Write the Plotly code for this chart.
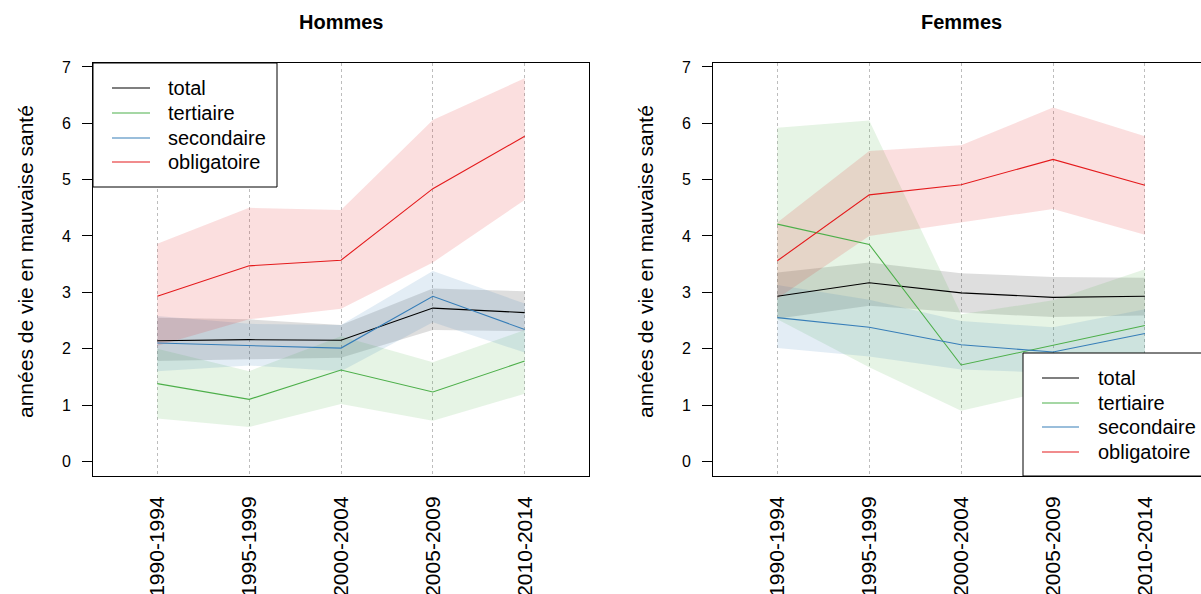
import plotly.graph_objects as go

W, H = 1201, 594

periodes = ["1990-1994", "1995-1999", "2000-2004", "2005-2009", "2010-2014"]
groupes = ["total", "tertiaire", "secondaire", "obligatoire"]

# Hommes
h_total = [2.14, 2.16, 2.15, 2.72, 2.64]
h_total_lo = [1.78, 1.81, 1.84, 2.33, 2.31]
h_total_hi = [2.55, 2.52, 2.42, 3.07, 3.02]
h_tert = [1.38, 1.10, 1.62, 1.23, 1.78]
h_tert_lo = [0.76, 0.61, 1.02, 0.72, 1.20]
h_tert_hi = [2.00, 1.60, 2.22, 1.76, 2.33]
h_sec = [2.10, 2.06, 2.01, 2.93, 2.34]
h_sec_lo = [1.60, 1.70, 1.60, 2.47, 1.93]
h_sec_hi = [2.58, 2.44, 2.42, 3.38, 2.80]
h_obl = [2.93, 3.47, 3.57, 4.84, 5.77]
h_obl_lo = [2.05, 2.52, 2.71, 3.53, 4.64]
h_obl_hi = [3.86, 4.50, 4.46, 6.06, 6.80]

# Femmes
f_total = [2.93, 3.17, 2.99, 2.91, 2.93]
f_total_lo = [2.53, 2.76, 2.64, 2.56, 2.59]
f_total_hi = [3.35, 3.53, 3.34, 3.27, 3.26]
f_tert = [4.21, 3.85, 1.71, 2.06, 2.41]
f_tert_lo = [2.52, 1.67, 0.90, 1.27, 1.43]
f_tert_hi = [5.92, 6.05, 2.61, 2.86, 3.41]
f_sec = [2.55, 2.38, 2.07, 1.94, 2.27]
f_sec_lo = [2.01, 1.86, 1.63, 1.57, 1.84]
f_sec_hi = [3.13, 2.87, 2.49, 2.38, 2.70]
f_obl = [3.56, 4.73, 4.91, 5.36, 4.90]
f_obl_lo = [2.89, 4.00, 4.24, 4.48, 4.02]
f_obl_hi = [4.24, 5.51, 5.61, 6.28, 5.77]

line_colors = ["#000000", "#4DAF4A", "#377EB8", "#E41A1C"]
band_colors = ["rgba(0,0,0,0.13)", "rgba(77,175,74,0.14)",
               "rgba(55,126,184,0.14)", "rgba(228,26,28,0.14)"]

FONT = "Liberation Sans, Arial, Helvetica, sans-serif"


def px(x):
    return x / W


def py(y):
    return 1 - y / H


fig = go.Figure()

panels = [
    ("x", "y", [(h_total, h_total_lo, h_total_hi), (h_tert, h_tert_lo, h_tert_hi),
                (h_sec, h_sec_lo, h_sec_hi), (h_obl, h_obl_lo, h_obl_hi)]),
    ("x2", "y2", [(f_total, f_total_lo, f_total_hi), (f_tert, f_tert_lo, f_tert_hi),
                  (f_sec, f_sec_lo, f_sec_hi), (f_obl, f_obl_lo, f_obl_hi)]),
]

for xa, ya, series in panels:
    for i, (mid, lo, hi) in enumerate(series):
        fig.add_trace(go.Scatter(
            x=periodes + periodes[::-1], y=hi + lo[::-1],
            fill="toself", fillcolor=band_colors[i], mode="lines",
            line=dict(width=0), hoverinfo="skip", showlegend=False,
            xaxis=xa, yaxis=ya))
    for i, (mid, lo, hi) in enumerate(series):
        fig.add_trace(go.Scatter(
            x=periodes, y=mid, mode="lines", name=groupes[i],
            line=dict(color=line_colors[i], width=1.1), showlegend=False,
            xaxis=xa, yaxis=ya))

ydom = [py(476), py(63)]
xcommon = dict(type="category", showline=True, mirror=True, linecolor="black",
               linewidth=1, ticks="", showgrid=True, gridcolor="#bdbdbd",
               griddash="dot", gridwidth=1, tickangle=-90, automargin=False,
               tickfont=dict(size=21, color="black", family=FONT),
               ticklabelstandoff=11, zeroline=False)
ycommon = dict(range=[-0.26, 7.07], tickvals=[0, 1, 2, 3, 4, 5, 6, 7],
               showline=True, linecolor="black", linewidth=1, ticks="outside",
               ticklen=10, tickwidth=1, tickcolor="black", showgrid=False,
               zeroline=False, automargin=False,
               tickfont=dict(size=16, color="black", family=FONT),
               ticklabelstandoff=8)

fig.update_layout(
    width=W, height=H,
    margin=dict(l=0, r=0, t=0, b=0, autoexpand=False),
    paper_bgcolor="white", plot_bgcolor="white",
    font=dict(family=FONT, color="black"),
    showlegend=False,
    xaxis=dict(domain=[px(93), px(589)], range=[-0.7, 4.7], anchor="y", **xcommon),
    yaxis=dict(domain=ydom, anchor="x", mirror=True, **ycommon),
    xaxis2=dict(domain=[px(713), 1.0], range=[-0.7, 4.61], anchor="y2", **xcommon),
    yaxis2=dict(domain=ydom, anchor="x2", mirror=False, **ycommon),
)

annotations = []
shapes = []

# titles
for txt, cx in [("Hommes", 341), ("Femmes", 961.5)]:
    annotations.append(dict(text="<b>%s</b>" % txt, x=px(cx), y=py(22), xref="paper",
                            yref="paper", xanchor="center", yanchor="middle",
                            showarrow=False, font=dict(size=20, family=FONT)))
# y titles
for cx in [25, 645]:
    annotations.append(dict(text="années de vie en mauvaise santé", x=px(cx), y=py(262),
                            xref="paper", yref="paper", xanchor="center",
                            yanchor="middle", textangle=-90, showarrow=False,
                            font=dict(size=21, family=FONT)))

# legends
legends = [
    dict(box=(93, 63, 277, 187), line=(112, 150), text_x=166, ys=[88, 113, 138, 162]),
    dict(box=(1023, 353, 1240, 476), line=(1042, 1079), text_x=1096, ys=[378, 403, 427, 452]),
]
for lg in legends:
    x0, y0, x1, y1 = lg["box"]
    shapes.append(dict(type="rect", xref="paper", yref="paper", x0=px(x0), x1=px(x1),
                       y0=py(y1), y1=py(y0), fillcolor="white",
                       line=dict(color="black", width=1), layer="above"))
    for i, yy in enumerate(lg["ys"]):
        shapes.append(dict(type="line", xref="paper", yref="paper",
                           x0=px(lg["line"][0]), x1=px(lg["line"][1]),
                           y0=py(yy), y1=py(yy),
                           line=dict(color=line_colors[i], width=1.1), layer="above"))
        annotations.append(dict(text=groupes[i], x=px(lg["text_x"]), y=py(yy),
                                xref="paper", yref="paper", xanchor="left",
                                yanchor="middle", showarrow=False,
                                font=dict(size=20, family=FONT)))

fig.update_layout(annotations=annotations, shapes=shapes)

fig.write_html("out.html")
